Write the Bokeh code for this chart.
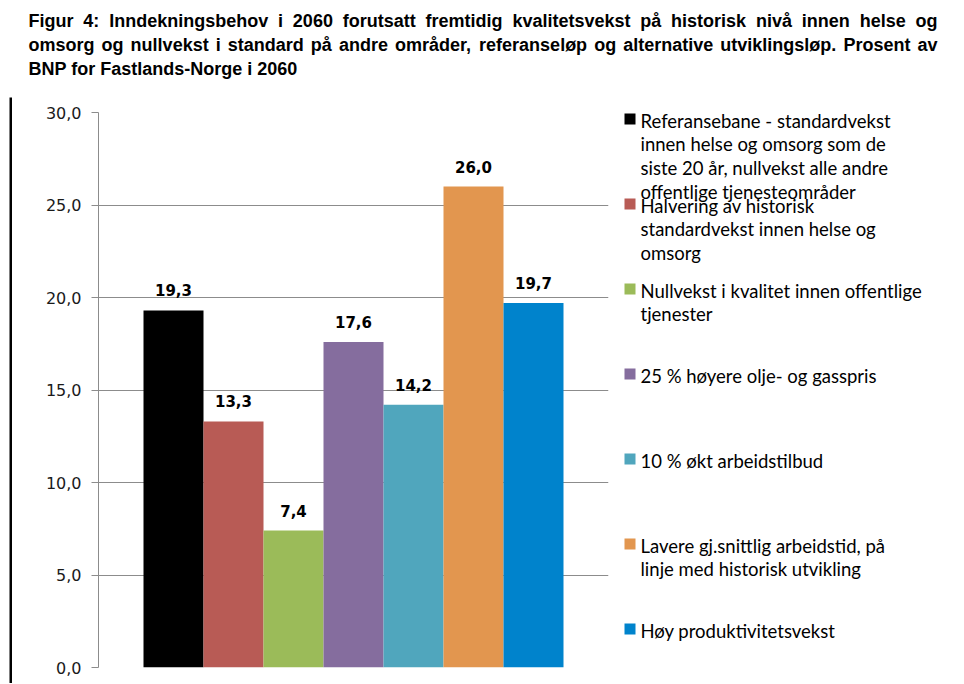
from bokeh.plotting import figure
from bokeh.layouts import column, row
from bokeh.models import Range1d, ColumnDataSource, CustomJSTickFormatter, FixedTicker
from bokeh.core.properties import value
from bokeh.embed import file_html
from bokeh.resources import INLINE

# ---------------- data ----------------
title_lines = [
    "Figur 4: Inndekningsbehov i 2060 forutsatt fremtidig kvalitetsvekst på historisk nivå innen helse og",
    "omsorg og nullvekst i standard på andre områder, referanseløp og alternative utviklingsløp. Prosent av",
    "BNP for Fastlands-Norge i 2060",
]
scenarios = [
    "Referansebane - standardvekst\ninnen helse og omsorg som de\nsiste 20 år, nullvekst alle andre\noffentlige tjenesteområder",
    "Halvering av historisk\nstandardvekst innen helse og\nomsorg",
    "Nullvekst i kvalitet innen offentlige\ntjenester",
    "25 % høyere olje- og gasspris",
    "10 % økt arbeidstilbud",
    "Lavere gj.snittlig arbeidstid, på\nlinje med historisk utvikling",
    "Høy produktivitetsvekst",
]
values = [19.3, 13.3, 7.4, 17.6, 14.2, 26.0, 19.7]
colors = ["#000000", "#B85B55", "#9BBB59", "#856D9E", "#50A6BD", "#E2964F", "#0083CC"]
y_ticks = [0, 5, 10, 15, 20, 25, 30]

GRID = "#8C8C8C"

# ---------------- title (justified like the source document) ----------------
# Arial/Liberation Sans Bold advance widths (per 1000 em) used to justify lines
_AW = {" ": 278, ",": 278, "-": 333, ".": 278, ":": 333, "%": 889}
_AW.update({d: 556 for d in "0123456789"})
_AW.update(dict(zip("ABCDEFGHIJKLMNOPQRSTUVWXYZ",
                    [722, 722, 722, 722, 667, 611, 778, 722, 278, 556, 722, 611, 833,
                     722, 778, 667, 778, 722, 667, 611, 722, 667, 944, 667, 667, 611])))
_AW.update(dict(zip("abcdefghijklmnopqrstuvwxyz",
                    [556, 611, 556, 611, 556, 333, 611, 611, 278, 278, 556, 278, 889,
                     611, 611, 611, 611, 389, 556, 333, 611, 556, 778, 556, 556, 500])))
_AW.update({"å": 556, "ø": 611, "æ": 889})


def text_width(s, size):
    return sum(_AW.get(c, 556) for c in s) * size / 1000.0


TW, TH = 964, 90
T_SIZE = 18
T_LEFT, T_RIGHT = 28, 937
tf = figure(width=TW, height=TH, x_range=Range1d(0, TW), y_range=Range1d(TH, 0),
            x_axis_location=None, y_axis_location=None, min_border=0,
            output_backend="svg", toolbar_location=None)
tf.grid.visible = False
tf.outline_line_color = None

wx, wy, wt = [], [], []
for i, line in enumerate(title_lines):
    ly = 20 + 24 * i
    words = line.split(" ")
    last = i == len(title_lines) - 1
    if last or len(words) < 2:
        wx.append(T_LEFT); wy.append(ly); wt.append(line)
        continue
    ww = [text_width(w, T_SIZE) for w in words]
    gap = (T_RIGHT - T_LEFT - sum(ww)) / (len(words) - 1)
    x = T_LEFT
    for w, wd in zip(words, ww):
        wx.append(x); wy.append(ly); wt.append(w)
        x += wd + gap
tf.text(x=wx, y=wy, text=wt, text_font=value("Liberation Sans"), text_font_style="bold",
        text_font_size=f"{T_SIZE}px", text_baseline="middle", text_color="#000000")

ROW_H = 593

# ---------------- page border line ----------------
lf = figure(width=12, height=ROW_H, x_range=Range1d(0, 12), y_range=Range1d(ROW_H, 0),
            min_border=0, x_axis_location=None, y_axis_location=None,
            output_backend="svg", toolbar_location=None)
lf.grid.visible = False
lf.outline_line_color = None
lf.quad(left=[9], right=[11.5], top=[7], bottom=[ROW_H], fill_color="black", line_color=None)

# ---------------- chart ----------------
xs = list(range(len(values)))
src = ColumnDataSource(dict(x=xs, top=values, color=colors,
                            label=[f"{v:.1f}".replace(".", ",") for v in values]))

p = figure(frame_width=510, frame_height=555,
           x_range=Range1d(-1.25, 7.25), y_range=Range1d(0, 30),
           min_border_left=86, min_border_right=7, min_border_top=22, min_border_bottom=16,
           x_axis_location=None, output_backend="svg", toolbar_location=None)
p.outline_line_color = None
p.xgrid.visible = False
p.ygrid.grid_line_color = GRID
p.ygrid.grid_line_width = 1
p.yaxis.ticker = FixedTicker(ticks=y_ticks)
p.yaxis.formatter = CustomJSTickFormatter(code="return tick.toFixed(1).replace('.', ',');")
p.yaxis.axis_line_color = GRID
p.yaxis.major_tick_line_color = GRID
p.yaxis.major_tick_out = 7
p.yaxis.major_tick_in = 0
p.yaxis.minor_tick_line_color = None
p.yaxis.major_label_standoff = 10
p.yaxis.major_label_text_font = "DejaVu Sans"
p.yaxis.major_label_text_font_size = "16px"
p.yaxis.major_label_text_color = "#1a1a1a"

p.vbar(x="x", top="top", width=1, fill_color="color", line_color=None, source=src)
p.text(x="x", y="top", text="label", source=src, y_offset=-20,
       text_align="center", text_baseline="middle",
       text_font=value("DejaVu Sans"), text_font_style="bold",
       text_font_size="15px", text_color="#000000")

# ---------------- legend ----------------
LW = 341
lg = figure(width=LW, height=ROW_H, x_range=Range1d(0, LW), y_range=Range1d(ROW_H, 0),
            x_axis_location=None, y_axis_location=None, min_border=0,
            output_backend="svg", toolbar_location=None)
lg.grid.visible = False
lg.outline_line_color = None

item_y0, item_step, line_h = 30, 85, 23.7
sq_x, sq_y, sq_c, tx_x, tx_y, tx_t = [], [], [], [], [], []
for i, lab in enumerate(scenarios):
    y0 = item_y0 + i * item_step
    sq_x.append(14.5)
    sq_y.append(y0 - 1.5)
    sq_c.append(colors[i])
    for j, ln in enumerate(lab.split("\n")):
        tx_x.append(25)
        tx_y.append(y0 + j * line_h)
        tx_t.append(ln)
lg.rect(x=sq_x, y=sq_y, width=11, height=11, fill_color=sq_c, line_color=None)
lg.text(x=tx_x, y=tx_y, text=tx_t, text_font=value("Lato"), text_font_size="18.5px",
        text_baseline="middle", text_color="#000000")

layout = column(tf, row(column(lf), column(p), column(lg)))
open("out.html", "w").write(file_html(layout, INLINE))
